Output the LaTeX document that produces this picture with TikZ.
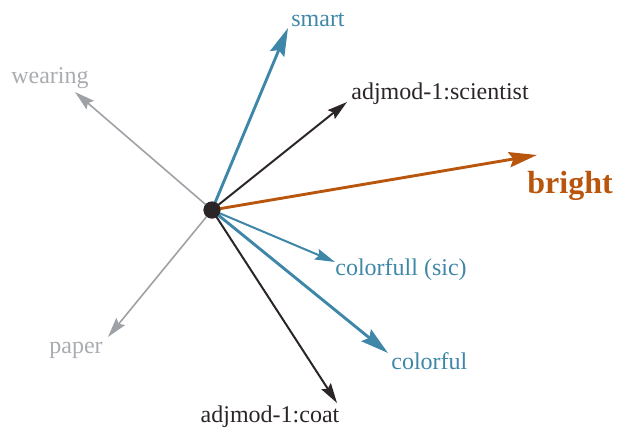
\documentclass[tikz,border=0pt]{standalone}
\usepackage{fontspec}
\setmainfont{Liberation Serif}
\usetikzlibrary{arrows.meta}
\definecolor{cblue}{HTML}{3F87A8}
\definecolor{corange}{HTML}{B9560E}
\definecolor{cdark}{HTML}{2B2527}
\definecolor{cgray}{HTML}{9EA2A6}
\definecolor{cgraytext}{HTML}{A9ACB0}
\tikzset{
  bigarrow/.style={line width=1.45pt, -{Stealth[length=14pt,width=7.6pt,inset=2pt]}},
  smallarrow/.style={line width=1pt, -{Stealth[length=10pt,width=5.6pt,inset=1.5pt]}},
  thinarrow/.style={line width=0.8pt, -{Stealth[length=10pt,width=5.6pt,inset=1.5pt]}},
  lbl/.style={inner sep=0pt, font=\fontsize{12}{14}\selectfont},
  hub/.style={circle, fill=cdark, inner sep=0pt, minimum size=8.5pt},
}
\begin{document}
\begin{tikzpicture}[x=0.5pt,y=-0.5pt]
\useasboundingbox (0,0) rectangle (618,430);
\node[hub] (c) at (212,210) {};
% tips
\coordinate (tsmart) at (288,28);
\coordinate (tsci) at (347,102);
\coordinate (tbright) at (537,155);
\coordinate (tcfull) at (335,262);
\coordinate (tcful) at (388,353);
\coordinate (tcoat) at (337,403);
\coordinate (tpaper) at (108,337);
\coordinate (twear) at (75,92);
% arrows
\draw[thinarrow, cgray] (c.center) -- (twear);
\draw[thinarrow, cgray] (c.center) -- (tpaper);
\draw[smallarrow, cdark] (c.center) -- (tsci);
\draw[smallarrow, cdark] (c.center) -- (tcoat);
\draw[smallarrow, cblue] (c.center) -- (tcfull);
\draw[bigarrow, cblue] (c.center) -- (tcful);
\draw[bigarrow, cblue] (c.center) -- (tsmart);
\draw[bigarrow, corange] (c.center) -- (tbright);
\node[hub] at (c) {};
% labels
\node[lbl, text=cblue] (lsmart) at (318,20) {smart};
\node[lbl, text=cdark, anchor=west] (lsci) at (351,94) {adjmod-1:scientist};
\node[lbl, text=corange, anchor=west, font=\fontsize{16}{19}\selectfont\bfseries] (lbright) at (527,186) {bright};
\node[lbl, text=cblue, anchor=west] (lcfull) at (335,270) {colorfull (sic)};
\node[lbl, text=cblue, anchor=west] (lcful) at (391,361) {colorful};
\node[lbl, text=cdark] (lcoat) at (270,417) {adjmod-1:coat};
\node[lbl, text=cgraytext] (lpaper) at (76,350) {paper};
\node[lbl, text=cgraytext] (lwear) at (50,78) {wearing};
\end{tikzpicture}
\end{document}
